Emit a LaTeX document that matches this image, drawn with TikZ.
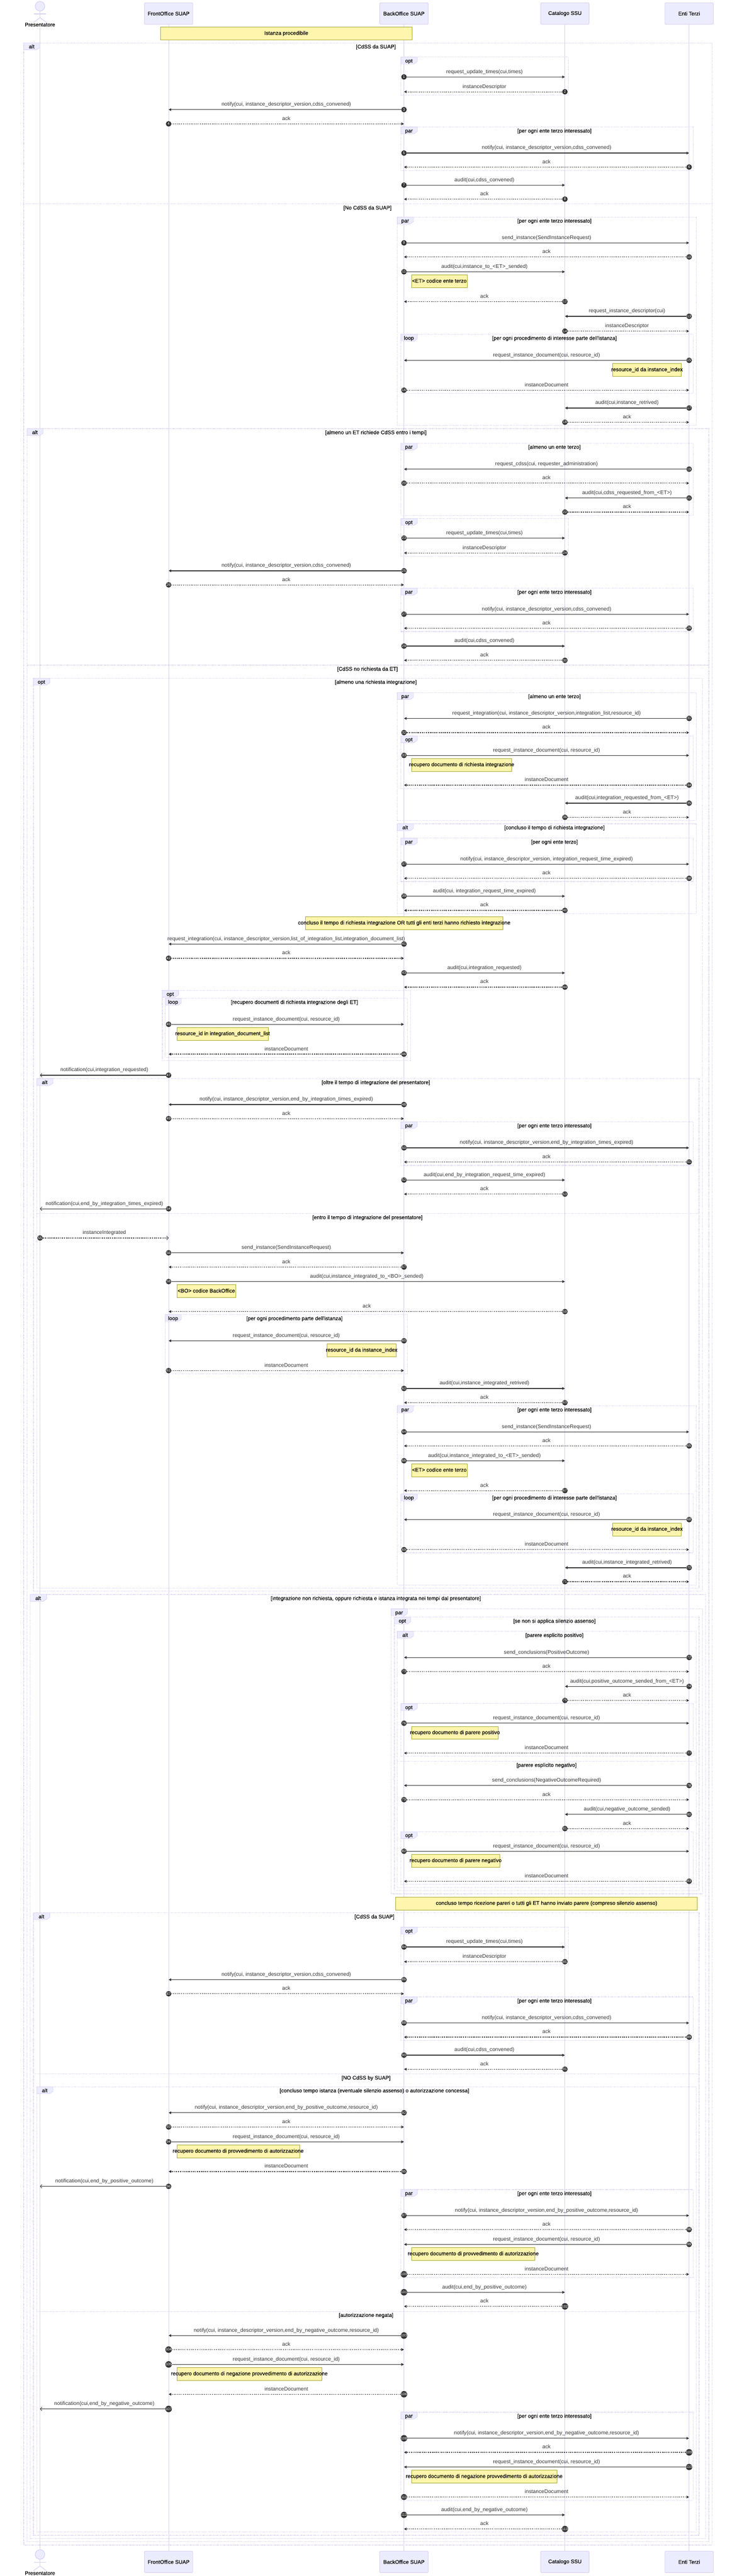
\documentclass[tikz,border=0pt]{standalone}
\usepackage{fontspec}
\setmainfont{Liberation Sans}
\newfontfamily\condfont[FakeBold=0.25]{Liberation Sans}
\usetikzlibrary{arrows.meta}
\catcode`\_=12
\definecolor{lav}{HTML}{DACEF3}
\definecolor{actfill}{HTML}{ECECFF}
\definecolor{notefill}{HTML}{FFF5AD}
\definecolor{notedraw}{HTML}{AAAA33}
\definecolor{ink}{HTML}{333333}
\newcommand\fsz{\fontsize{11}{12}\selectfont}
\newcommand\csz{\condfont\fontsize{11}{12}\selectfont}
\tikzset{
 life/.style={draw=lav,line width=0.8pt},
 actorbox/.style={draw=lav,fill=actfill,line width=1pt,rounded corners=1.5pt,minimum width=101pt,minimum height=44.7pt,inner sep=0pt,font=\csz,text=black},
 stick/.style={draw=lav,line width=1.2pt},
 stickhead/.style={draw=lav,fill=actfill,line width=1.2pt,circle,minimum size=20pt,inner sep=0pt},
 seqnum/.style={circle,fill=ink,text=white,minimum size=11.5pt,inner sep=0pt,font=\fontsize{7.5}{8}\selectfont},
 msgtext/.style={inner sep=0pt,font=\fsz,text=ink,text height=8pt,text depth=2.5pt},
 condtext/.style={inner sep=0pt,font=\csz,text=black,text height=8pt,text depth=2.5pt},
 msgS/.style={draw=ink,line width=1.35pt,-{Triangle[length=5.5pt,width=5.5pt]}},
 msgD/.style={draw=ink,line width=1.35pt,dash pattern=on 2pt off 2pt,-{Triangle[length=5.5pt,width=5.5pt]}},
 msgSO/.style={draw=ink,line width=1.35pt,-{Straight Barb[length=3.5pt,width=8pt,line width=0.9pt]}},
 msgDO/.style={draw=ink,line width=1.35pt,dash pattern=on 2pt off 2pt,-{Straight Barb[length=3.5pt,width=8pt,line width=0.9pt]}},
 framebox/.style={draw=lav,line width=1.35pt,dash pattern=on 1.4pt off 1.4pt},
 framelab/.style={draw=lav,fill=actfill,line width=0.7pt},
 notebox/.style={draw=notedraw,fill=notefill,line width=0.7pt},
}
\newcount\frmc
\newcommand\seqmsg[6]{%
 \node[seqnum] (n#1) at (#2 |- 0,#4) {#1};
 \coordinate (t#1) at (#3 |- 0,#4);
 \draw[#5] (n#1) -- (t#1);
 \path (#2 |- 0,#4) -- (t#1) node[midway,yshift=10.4pt,msgtext] (l#1) {#6};
}
\newcommand\seqframe[7]{%
 \global\advance\frmc by 1
 \draw[framebox] (#1,#3) rectangle (#2,#4);
 \path[framelab] (#1,#3) -- ++(35,0) -- ++(0,9.5) -- ++(-7,4.8) -- ++(-28,0) -- cycle;
 \node[condtext] (fl\the\frmc) at (#1+17,#3+8.7) {#5};
 \node[condtext] (fc\the\frmc) at (#6,#3+8.9) {#7};
}
\newcommand\seqdiv[5]{%
 \global\advance\frmc by 1
 \draw[framebox] (#1,#3) -- (#2,#3);
 \node[condtext] (fc\the\frmc) at (#4,#3+8.9) {#5};
}
\newcommand\seqnote[5]{%
 \global\advance\frmc by 1
 \path[notebox] (#1,#3) rectangle (#2,#4);
 \node[condtext] (nt\the\frmc) at ({(#1+#2)/2},{(#3+#4)/2}) {#5};
}
\newcommand\stickman[2]{%
 \node[stickhead] (#2h) at (86,#1+10) {};
 \draw[stick] (#2h) -- (86,#1+34);
 \draw[stick] (73,#1+26) -- (99,#1+26);
 \draw[stick] (72,#1+44) -- (86,#1+34) -- (100,#1+44);
}
\begin{document}
\begin{tikzpicture}[x=0.971pt,y=-1pt]
\useasboundingbox (0,0) rectangle (1568.5,5381);
\fill[white] (0,0) rectangle (1568.5,5381);
% actors
\node[condtext] (P) at (86,52.5) {Presentatore};
\node[actorbox] (FO) at (362.5,28.3) {FrontOffice SUAP};
\node[actorbox] (BO) at (868.5,28.3) {BackOffice SUAP};
\node[actorbox] (CA) at (1214.5,28.3) {Catalogo SSU};
\node[actorbox] (ET) at (1481.5,28.3) {Enti Terzi};
\node[condtext] (Pf) at (86,5376) {Presentatore};
\node[actorbox] (FOf) at (362.5,5351.5) {FrontOffice SUAP};
\node[actorbox] (BOf) at (868.5,5351.5) {BackOffice SUAP};
\node[actorbox] (CAf) at (1214.5,5351.5) {Catalogo SSU};
\node[actorbox] (ETf) at (1481.5,5351.5) {Enti Terzi};
\stickman{3}{Pa}
\stickman{5326}{Pb}
\draw[life] (P) -- (Pbh);
\draw[life] (FO) -- (FOf);
\draw[life] (BO) -- (BOf);
\draw[life] (CA) -- (CAf);
\draw[life] (ET) -- (ETf);
\seqnote{345}{886}{56.7}{83.3}{Istanza procedibile}
% outer alternatives
\seqframe{51}{1531}{89.5}{5316.3}{alt}{808}{[CdSS da SUAP]}
\seqframe{862}{1222}{119.3}{198.7}{opt}{1041}{}
\seqmsg{1}{BO}{CA}{160.7}{msgS}{request_update_times(cui,times)}
\seqmsg{2}{CA}{BO}{191.7}{msgD}{instanceDescriptor}
\seqmsg{3}{BO}{FO}{229}{msgS}{notify(cui, instance_descriptor_version,cdss_convened)}
\seqmsg{4}{FO}{BO}{258.7}{msgD}{ack}
\seqframe{862}{1490}{265.3}{356.7}{par}{1192}{[per ogni ente terzo interessato]}
\seqmsg{5}{BO}{ET}{319.7}{msgS}{notify(cui, instance_descriptor_version,cdss_convened)}
\seqmsg{6}{ET}{BO}{349}{msgD}{ack}
\seqmsg{7}{BO}{CA}{386.7}{msgS}{audit(cui,cdss_convened)}
\seqmsg{8}{CA}{BO}{416}{msgD}{ack}
\seqdiv{51}{1531}{426}{790}{[No CdSS da SUAP]}
\seqframe{854}{1497}{453.3}{888.7}{par}{1192}{[per ogni ente terzo interessato]}
\seqmsg{9}{BO}{ET}{507.3}{msgS}{send_instance(SendInstanceRequest)}
\seqmsg{10}{ET}{BO}{536.7}{msgD}{ack}
\seqmsg{11}{BO}{CA}{567.7}{msgS}{audit(cui,instance_to_<ET>_sended)}
\seqnote{885}{1004}{574.3}{601}{<ET> codice ente terzo}
\seqmsg{12}{CA}{BO}{630}{msgD}{ack}
\seqmsg{13}{ET}{CA}{660.7}{msgS}{request_instance_descriptor(cui)}
\seqmsg{14}{CA}{ET}{691.7}{msgD}{instanceDescriptor}
\seqframe{862}{1490}{698.3}{821.7}{loop}{1192}{[per ogni procedimento di interesse parte dell\textquotesingle istanza]}
\seqmsg{15}{ET}{BO}{752.7}{msgS}{request_instance_document(cui, resource_id)}
\seqnote{1317}{1465}{759.3}{786}{resource_id da instance_index}
\seqmsg{16}{BO}{ET}{815}{msgD}{instanceDocument}
\seqmsg{17}{ET}{CA}{852.3}{msgS}{audit(cui,instance_retrived)}
\seqmsg{18}{CA}{ET}{882}{msgD}{ack}
\seqframe{58}{1524}{895.3}{5309.3}{alt}{808}{[almeno un ET richiede CdSS entro i tempi]}
\seqframe{862}{1490}{925.7}{1076.7}{par}{1192}{[almeno un ente terzo]}
\seqmsg{19}{ET}{BO}{980}{msgS}{request_cdss(cui, requester_administration)}
\seqmsg{20}{BO}{ET}{1009.3}{msgD}{ack}
\seqmsg{21}{ET}{CA}{1040.3}{msgS}{audit(cui,cdss_requested_from_<ET>)}
\seqmsg{22}{CA}{ET}{1069.7}{msgD}{ack}
\seqframe{862}{1222}{1083.3}{1162}{opt}{1041}{}
\seqmsg{23}{BO}{CA}{1124}{msgS}{request_update_times(cui,times)}
\seqmsg{24}{CA}{BO}{1155}{msgD}{instanceDescriptor}
\seqmsg{25}{BO}{FO}{1192.3}{msgS}{notify(cui, instance_descriptor_version,cdss_convened)}
\seqmsg{26}{FO}{BO}{1221.7}{msgD}{ack}
\seqframe{862}{1490}{1228.7}{1319.3}{par}{1192}{[per ogni ente terzo interessato]}
\seqmsg{27}{BO}{ET}{1283}{msgS}{notify(cui, instance_descriptor_version,cdss_convened)}
\seqmsg{28}{ET}{BO}{1312.3}{msgD}{ack}
\seqmsg{29}{BO}{CA}{1349.6}{msgS}{audit(cui,cdss_convened)}
\seqmsg{30}{CA}{BO}{1379.3}{msgD}{ack}
\seqdiv{58}{1524}{1389.3}{790}{[CdSS no richiesta da ET]}
\seqframe{72}{1510}{1416.7}{3324}{opt}{808}{[almeno una richiesta integrazione]}
\seqframe{854}{1497}{1446.7}{1714}{par}{1192}{[almeno un ente terzo]}
\seqmsg{31}{ET}{BO}{1500.7}{msgS}{request_integration(cui, instance_descriptor_version,integration_list,resource_id)}
\seqmsg{32}{BO}{ET}{1530.3}{msgD}{ack}
\seqframe{862}{1490}{1537}{1646.7}{opt}{1176}{}
\seqmsg{33}{BO}{ET}{1578}{msgS}{request_instance_document(cui, resource_id)}
\seqnote{885}{1100}{1584.3}{1611.3}{recupero documento di richiesta integrazione}
\seqmsg{34}{ET}{BO}{1640}{msgD}{instanceDocument}
\seqmsg{35}{ET}{CA}{1677.7}{msgS}{audit(cui,integration_requested_from_<ET>)}
\seqmsg{36}{CA}{ET}{1707.3}{msgD}{ack}
\seqframe{854}{1497}{1720.7}{1908.3}{alt}{1192}{[concluso il tempo di richiesta integrazione]}
\seqframe{862}{1490}{1750.7}{1841.3}{par}{1192}{[per ogni ente terzo]}
\seqmsg{37}{BO}{ET}{1805}{msgS}{notify(cui, instance_descriptor_version, integration_request_time_expired)}
\seqmsg{38}{ET}{BO}{1834.7}{msgD}{ack}
\seqmsg{39}{BO}{CA}{1872}{msgS}{audit(cui, integration_request_time_expired)}
\seqmsg{40}{CA}{BO}{1901.7}{msgD}{ack}
\seqnote{657}{1081}{1915}{1941.7}{concluso il tempo di richiesta integrazione OR tutti gli enti terzi hanno richiesto integrazione}
\seqmsg{41}{BO}{FO}{1972}{msgS}{request_integration(cui, instance_descriptor_version,list_of_integration_list,integration_document_list)}
\seqmsg{42}{FO}{BO}{2001.7}{msgD}{ack}
\seqmsg{43}{BO}{CA}{2032.3}{msgS}{audit(cui,integration_requested)}
\seqmsg{44}{CA}{BO}{2062}{msgD}{ack}
\seqframe{349}{883}{2068.7}{2215.3}{opt}{616}{}
\seqframe{355}{876}{2085.3}{2208.7}{loop}{633}{[recupero documenti di richiesta integrazione degli ET]}
\seqmsg{45}{FO}{BO}{2139.7}{msgS}{request_instance_document(cui, resource_id)}
\seqnote{380}{577}{2146.7}{2172.7}{resource_id in integration_document_list}
\seqmsg{46}{BO}{FO}{2202}{msgD}{instanceDocument}
\seqmsg{47}{FO}{P}{2246}{msgSO}{notification(cui,integration_requested)}
\seqframe{79}{1503}{2253}{3317.3}{alt}{808}{[oltre il tempo di integrazione del presentatore]}
\seqmsg{48}{BO}{FO}{2307.3}{msgS}{notify(cui, instance_descriptor_version,end_by_integration_times_expired)}
\seqmsg{49}{FO}{BO}{2336.7}{msgD}{ack}
\seqframe{862}{1490}{2343.3}{2434.3}{par}{1192}{[per ogni ente terzo interessato]}
\seqmsg{50}{BO}{ET}{2397.7}{msgS}{notify(cui, instance_descriptor_version,end_by_integration_times_expired)}
\seqmsg{51}{ET}{BO}{2427.3}{msgD}{ack}
\seqmsg{52}{BO}{CA}{2465}{msgS}{audit(cui,end_by_integration_request_time_expired)}
\seqmsg{53}{CA}{BO}{2494.3}{msgD}{ack}
\seqmsg{54}{FO}{P}{2525}{msgSO}{notification(cui,end_by_integration_times_expired)}
\seqdiv{79}{1503}{2535}{790}{[entro il tempo di integrazione del presentatore]}
\seqmsg{55}{P}{FO}{2586}{msgDO}{instanceIntegrated}
\seqmsg{56}{FO}{BO}{2617}{msgS}{send_instance(SendInstanceRequest)}
\seqmsg{57}{BO}{FO}{2646.7}{msgD}{ack}
\seqmsg{58}{FO}{CA}{2677}{msgS}{audit(cui,instance_integrated_to_<BO>_sended)}
\seqnote{380}{507}{2683.7}{2710.7}{<BO> codice BackOffice}
\seqmsg{59}{CA}{FO}{2739.7}{msgD}{ack}
\seqframe{355}{876}{2746}{2870}{loop}{633}{[per ogni procedimento parte dell\textquotesingle istanza]}
\seqmsg{60}{BO}{FO}{2800.7}{msgS}{request_instance_document(cui, resource_id)}
\seqnote{703}{852}{2807.3}{2834}{resource_id da instance_index}
\seqmsg{61}{FO}{BO}{2863}{msgD}{instanceDocument}
\seqmsg{62}{BO}{CA}{2900.3}{msgS}{audit(cui,instance_integrated_retrived)}
\seqmsg{63}{CA}{BO}{2930}{msgD}{ack}
\seqframe{854}{1497}{2936.7}{3310.7}{par}{1192}{[per ogni ente terzo interessato]}
\seqmsg{64}{BO}{ET}{2991}{msgS}{send_instance(SendInstanceRequest)}
\seqmsg{65}{ET}{BO}{3020.3}{msgD}{ack}
\seqmsg{66}{BO}{CA}{3051.3}{msgS}{audit(cui,instance_integrated_to_<ET>_sended)}
\seqnote{885}{1004}{3058}{3084.7}{<ET> codice ente terzo}
\seqmsg{67}{CA}{BO}{3113.7}{msgD}{ack}
\seqframe{862}{1490}{3120.7}{3243.7}{loop}{1192}{[per ogni procedimento di interesse parte dell\textquotesingle istanza]}
\seqmsg{68}{ET}{BO}{3174.3}{msgS}{request_instance_document(cui, resource_id)}
\seqnote{1317}{1465}{3181.3}{3208}{resource_id da instance_index}
\seqmsg{69}{BO}{ET}{3237}{msgD}{instanceDocument}
\seqmsg{70}{ET}{CA}{3274.7}{msgS}{audit(cui,instance_integrated_retrived)}
\seqmsg{71}{CA}{ET}{3304}{msgD}{ack}
\seqframe{65}{1517}{3330.7}{5302.7}{alt}{808}{[integrazione non richiesta, oppure richiesta e istanza integrata nei tempi dal presentatore]}
\seqframe{841}{1510}{3360.7}{3956}{par}{1176}{}
\seqframe{848}{1503}{3378}{3949.3}{opt}{1192}{[se non si applica silenzio assenso]}
\seqframe{854}{1497}{3407.7}{3942.7}{alt}{1192}{[parere esplicito positivo]}
\seqmsg{72}{ET}{BO}{3462.3}{msgS}{send_conclusions(PositiveOutcome)}
\seqmsg{73}{BO}{ET}{3491.7}{msgD}{ack}
\seqmsg{74}{ET}{CA}{3522.7}{msgS}{audit(cui,positive_outcome_sended_from_<ET>)}
\seqmsg{75}{CA}{ET}{3552}{msgD}{ack}
\seqframe{862}{1490}{3558.7}{3668.3}{opt}{1176}{}
\seqmsg{76}{BO}{ET}{3599.6}{msgS}{request_instance_document(cui, resource_id)}
\seqnote{885}{1071}{3606.3}{3633}{recupero documento di parere positivo}
\seqmsg{77}{ET}{BO}{3662}{msgD}{instanceDocument}
\seqdiv{854}{1497}{3679}{1175}{[parere esplicito negativo]}
\seqmsg{78}{ET}{BO}{3729.7}{msgS}{send_conclusions(NegativeOutcomeRequired)}
\seqmsg{79}{BO}{ET}{3759.3}{msgD}{ack}
\seqmsg{80}{ET}{CA}{3790}{msgS}{audit(cui,negative_outcome_sended)}
\seqmsg{81}{CA}{ET}{3819.7}{msgD}{ack}
\seqframe{862}{1490}{3826}{3936}{opt}{1176}{}
\seqmsg{82}{BO}{ET}{3867}{msgS}{request_instance_document(cui, resource_id)}
\seqnote{885}{1074}{3873.7}{3900.3}{recupero documento di parere negativo}
\seqmsg{83}{ET}{BO}{3929.7}{msgD}{instanceDocument}
\seqnote{851}{1499}{3963}{3989.3}{concluso tempo ricezione pareri o tutti gli ET hanno inviato parere (compreso silenzio assenso)}
\seqframe{72}{1503}{3995.7}{5296}{alt}{805}{[CdSS da SUAP]}
\seqframe{862}{1222}{4025.7}{4104.3}{opt}{1041}{}
\seqmsg{84}{BO}{CA}{4067}{msgS}{request_update_times(cui,times)}
\seqmsg{85}{CA}{BO}{4097.7}{msgD}{instanceDescriptor}
\seqmsg{86}{BO}{FO}{4135.3}{msgS}{notify(cui, instance_descriptor_version,cdss_convened)}
\seqmsg{87}{FO}{BO}{4164.7}{msgD}{ack}
\seqframe{862}{1490}{4171.3}{4262.3}{par}{1192}{[per ogni ente terzo interessato]}
\seqmsg{88}{BO}{ET}{4225.7}{msgS}{notify(cui, instance_descriptor_version,cdss_convened)}
\seqmsg{89}{ET}{BO}{4255.3}{msgD}{ack}
\seqmsg{90}{BO}{CA}{4293}{msgS}{audit(cui,cdss_convened)}
\seqmsg{91}{CA}{BO}{4322.3}{msgD}{ack}
\seqdiv{72}{1503}{4332.3}{787}{[NO CdSS by SUAP]}
\seqframe{79}{1497}{4359}{5289.3}{alt}{805}{[concluso tempo istanza (eventuale silenzio assenso) o autorizzazione concessa]}
\seqmsg{92}{BO}{FO}{4413.3}{msgS}{notify(cui, instance_descriptor_version,end_by_positive_outcome,resource_id)}
\seqmsg{93}{FO}{BO}{4443}{msgD}{ack}
\seqmsg{94}{FO}{BO}{4474}{msgS}{request_instance_document(cui, resource_id)}
\seqnote{380}{644}{4480.7}{4507}{recupero documento di provvedimento di autorizzazione}
\seqmsg{95}{BO}{FO}{4536}{msgD}{instanceDocument}
\seqmsg{96}{FO}{P}{4567}{msgSO}{notification(cui,end_by_positive_outcome)}
\seqframe{862}{1490}{4573.7}{4757.3}{par}{1192}{[per ogni ente terzo interessato]}
\seqmsg{97}{BO}{ET}{4628}{msgS}{notify(cui, instance_descriptor_version,end_by_positive_outcome,resource_id)}
\seqmsg{98}{ET}{BO}{4657.3}{msgD}{ack}
\seqmsg{99}{ET}{BO}{4688.3}{msgS}{request_instance_document(cui, resource_id)}
\seqnote{885}{1150}{4695}{4721.7}{recupero documento di provvedimento di autorizzazione}
\seqmsg{100}{BO}{ET}{4750.7}{msgD}{instanceDocument}
\seqmsg{101}{BO}{CA}{4788.3}{msgS}{audit(cui,end_by_positive_outcome)}
\seqmsg{102}{CA}{BO}{4817.7}{msgD}{ack}
\seqdiv{79}{1497}{4828}{787}{[autorizzazione negata]}
\seqmsg{103}{BO}{FO}{4878.7}{msgS}{notify(cui, instance_descriptor_version,end_by_negative_outcome,resource_id)}
\seqmsg{104}{FO}{BO}{4908}{msgD}{ack}
\seqmsg{105}{FO}{BO}{4939}{msgS}{request_instance_document(cui, resource_id)}
\seqnote{380}{692}{4945.7}{4972.3}{recupero documento di negazione provvedimento di autorizzazione}
\seqmsg{106}{BO}{FO}{5001.3}{msgD}{instanceDocument}
\seqmsg{107}{FO}{P}{5032}{msgSO}{notification(cui,end_by_negative_outcome)}
\seqframe{862}{1490}{5038.7}{5223}{par}{1192}{[per ogni ente terzo interessato]}
\seqmsg{108}{BO}{ET}{5093.3}{msgS}{notify(cui, instance_descriptor_version,end_by_negative_outcome,resource_id)}
\seqmsg{109}{ET}{BO}{5122.7}{msgD}{ack}
\seqmsg{110}{ET}{BO}{5153.3}{msgS}{request_instance_document(cui, resource_id)}
\seqnote{885}{1197}{5160}{5186.7}{recupero documento di negazione provvedimento di autorizzazione}
\seqmsg{111}{BO}{ET}{5216}{msgD}{instanceDocument}
\seqmsg{112}{BO}{CA}{5253.3}{msgS}{audit(cui,end_by_negative_outcome)}
\seqmsg{113}{CA}{BO}{5282.7}{msgD}{ack}
\end{tikzpicture}
\end{document}
